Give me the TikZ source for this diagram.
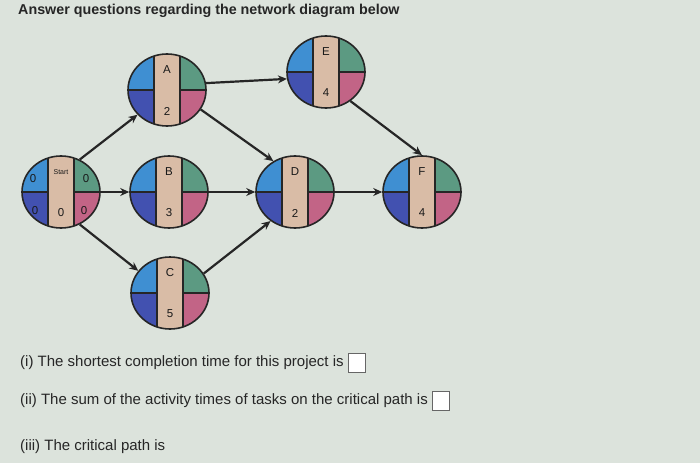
\documentclass[tikz,border=0pt]{standalone}
\usepackage{fontspec}
\setmainfont{Liberation Sans}
\usetikzlibrary{shapes.geometric,arrows.meta}
\definecolor{bg}{HTML}{DCE3DC}
\definecolor{qtl}{HTML}{3F8FD2}
\definecolor{qbl}{HTML}{4251B0}
\definecolor{qtr}{HTML}{5C9A82}
\definecolor{qbr}{HTML}{C26486}
\definecolor{mid}{HTML}{D9BCA6}
\tikzset{
  ev/.style={ellipse, draw=black!85, line width=1.6pt, minimum width=78pt, minimum height=72pt, inner sep=0pt},
  lab/.style={font=\fontsize{11.5}{11.5}\selectfont, text=black!90},
  arr/.style={-{Stealth[length=9pt,width=8pt]}, line width=2.2pt, black!85},
  q/.style={font=\fontsize{15}{15}\selectfont, text=black!85, anchor=west},
  box/.style={draw=black!60, fill=white, minimum width=17pt, minimum height=19pt, inner sep=0pt}
}
\newcommand{\netev}[5]{%
  \begin{scope}
    \clip (#2,#3) ellipse (39pt and 36pt);
    \fill[qtl] (#2-39,#3-36) rectangle (#2-13,#3);
    \fill[qbl] (#2-39,#3) rectangle (#2-13,#3+36);
    \fill[qtr] (#2+13,#3-36) rectangle (#2+39,#3);
    \fill[qbr] (#2+13,#3) rectangle (#2+39,#3+36);
    \fill[mid] (#2-13,#3-36) rectangle (#2+13,#3+36);
    \draw[black!85, line width=1.4pt] (#2-13,#3-36) -- (#2-13,#3+36) (#2+13,#3-36) -- (#2+13,#3+36)
      (#2-39,#3) -- (#2-13,#3) (#2+13,#3) -- (#2+39,#3);
  \end{scope}
  \node[ev] (#1) at (#2,#3) {};
  \node[lab] at (#2,#3-20) {#4};
  \node[lab] at (#2,#3+21) {#5};
}
\begin{document}
\begin{tikzpicture}[x=1pt,y=-1pt]
\fill[bg] (0,0) rectangle (700,463);
\useasboundingbox (0,0) rectangle (700,463);
\node[anchor=west, font=\fontsize{14.3}{14.3}\selectfont\bfseries, text=black!85, inner sep=0pt] (title) at (18,11) {Answer questions regarding the network diagram below};
\netev{A}{167}{90}{A}{2}
\netev{E}{326}{72}{E}{4}
\netev{S}{61}{192}{\fontsize{7}{7}\selectfont Start}{0}
\node[lab] at (33,179) {0};
\node[lab] at (86,179) {0};
\node[lab] at (35,211) {0};
\node[lab] at (84,211) {0};
\netev{B}{169}{192}{B}{3}
\netev{D}{295}{192}{D}{2}
\netev{F}{422}{192}{F}{4}
\netev{C}{170}{293}{C}{5}
\draw[arr] (S.60) -- (A.220);
\draw[arr] (S) -- (B);
\draw[arr] (S.-60) -- (C.145);
\draw[arr] (A.10) -- (E.190);
\draw[arr] (A.-30) -- (D.125);
\draw[arr] (B) -- (D);
\draw[arr] (C.30) -- (D.-130);
\draw[arr] (D) -- (F);
\draw[arr] (E.-50) -- (F.90);
\node[q, inner sep=0pt] (q1) at (20,363) {(i) The shortest completion time for this project is};
\node[box, anchor=west] (b1) at ([xshift=4pt]q1.east) {};
\node[q, inner sep=0pt] (q2) at (20,401) {(ii) The sum of the activity times of tasks on the critical path is};
\node[box, anchor=west] (b2) at ([xshift=4pt]q2.east) {};
\node[q, inner sep=0pt] (q3) at (20,447) {(iii) The critical path is};
\end{tikzpicture}
\end{document}
